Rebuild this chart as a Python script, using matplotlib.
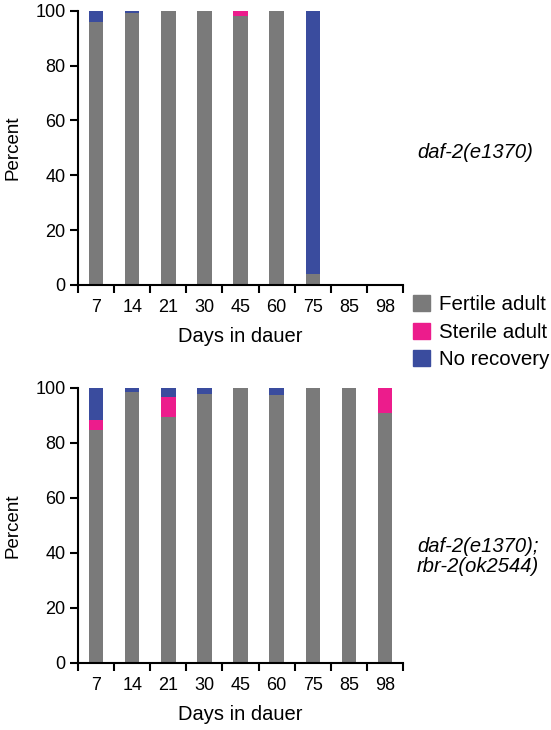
import matplotlib.pyplot as plt
from matplotlib.patches import Patch

plt.rcParams['font.family'] = ['Liberation Sans', 'DejaVu Sans']

days = ['7', '14', '21', '30', '45', '60', '75', '85', '98']

# daf-2(e1370)
top_fertile = [96, 99, 100, 100, 98, 100, 4, 0, 0]
top_sterile = [0, 0, 0, 0, 2, 0, 0, 0, 0]
top_norec = [4, 1, 0, 0, 0, 0, 96, 0, 0]

# daf-2(e1370); rbr-2(ok2544)
bot_fertile = [84.6, 98.7, 89.6, 97.8, 100, 97.6, 100, 100, 90.9]
bot_sterile = [3.8, 0, 7.0, 0, 0, 0, 0, 0, 9.1]
bot_norec = [11.6, 1.3, 3.4, 2.2, 0, 2.4, 0, 0, 0]

gray = '#7a7a7a'
pink = '#ec1c8c'
blue = '#3a4c9e'

fig = plt.figure(figsize=(5.51, 7.3), dpi=100)
ax1 = fig.add_axes([0.1416, 0.6096, 0.5898, 0.3757])
ax2 = fig.add_axes([0.1416, 0.0918, 0.5898, 0.3767])


def draw(ax, fertile, sterile, norec):
    x = list(range(len(days)))
    bottom2 = [f + s for f, s in zip(fertile, sterile)]
    ax.bar(x, fertile, width=0.4, color=gray)
    ax.bar(x, sterile, width=0.4, bottom=fertile, color=pink)
    ax.bar(x, norec, width=0.4, bottom=bottom2, color=blue)
    ax.set_xlim(-0.5, len(days) - 0.5)
    ax.set_ylim(0, 100)
    ax.set_yticks([0, 20, 40, 60, 80, 100])
    ax.set_xticks([i - 0.5 for i in range(len(days) + 1)])
    ax.set_xticklabels([])
    ax.set_xticks(x, minor=True)
    ax.set_xticklabels(days, minor=True)
    ax.tick_params(axis='x', which='minor', length=0, pad=10, labelsize=13)
    ax.tick_params(axis='both', which='major', length=6, width=1.5,
                   direction='out', labelsize=13, pad=3)
    for s in ['top', 'right']:
        ax.spines[s].set_visible(False)
    for s in ['left', 'bottom']:
        ax.spines[s].set_linewidth(1.5)
    ax.set_xlabel('Days in dauer', fontsize=14.5, labelpad=8)
    ax.set_ylabel('Percent', fontsize=13.5, labelpad=10)


draw(ax1, top_fertile, top_sterile, top_norec)
draw(ax2, bot_fertile, bot_sterile, bot_norec)

fig.text(0.757, 1 - 153 / 730, 'daf-2(e1370)', fontsize=14.5,
         style='italic', va='center', ha='left')
fig.text(0.757, 1 - 546 / 730, 'daf-2(e1370);', fontsize=14.5,
         style='italic', va='center', ha='left')
fig.text(0.757, 1 - 567 / 730, 'rbr-2(ok2544)', fontsize=14.5,
         style='italic', va='center', ha='left')

handles = [Patch(color=gray), Patch(color=pink), Patch(color=blue)]
fig.legend(handles, ['Fertile adult', 'Sterile adult', 'No recovery'],
           loc='upper left', bbox_to_anchor=(0.749, 1 - 295 / 730),
           frameon=False, fontsize=14.8, handlelength=0.85, handleheight=0.85,
           handletextpad=0.45, labelspacing=0.4, borderaxespad=0,
           borderpad=0)

fig.savefig('out.png', dpi=100)
